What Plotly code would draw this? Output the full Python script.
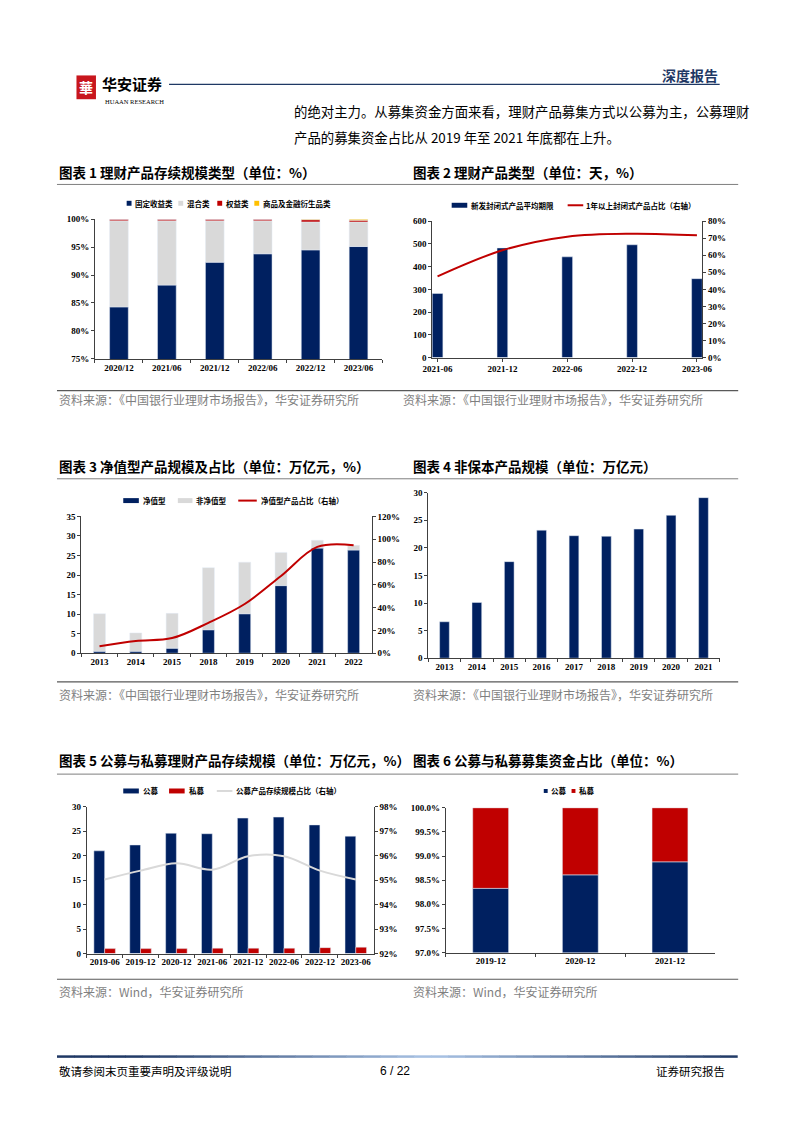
import plotly.graph_objects as go

# The page body has an 8px margin, so the figure is 16px smaller than the
# window and every reference pixel position is shifted by 8px.
OFF = 8
W, H = 802 - 2 * OFF, 1133 - 2 * OFF
def px(x): return (x - OFF) / W
def py(y): return 1 - (y - OFF) / H

NAVY = "#002060"
RED = "#C00000"
LGRAY = "#D9D9D9"
YELLOW = "#FFC000"
CJK = "Noto Sans CJK SC"
SERIF = "Liberation Serif"
AXC = "#404040"

# ---------------- data ----------------
# Chart 1
c1_periods = ["2020/12", "2021/06", "2021/12", "2022/06", "2022/12", "2023/06"]
c1_fixed = [84.3, 88.2, 92.3, 93.8, 94.5, 95.1]
c1_mixed = [15.4, 11.5, 7.4, 5.9, 5.0, 4.4]
c1_equity = [0.3, 0.3, 0.3, 0.3, 0.4, 0.3]
c1_commod = [0.0, 0.0, 0.0, 0.0, 0.1, 0.2]

# Chart 2
c2_periods = ["2021-06", "2021-12", "2022-06", "2022-12", "2023-06"]
c2_term = [282, 482, 443, 496, 347]
c2_share = [47.6, 62.9, 70.9, 72.6, 71.7]

# Chart 3
c3_years = ["2013", "2014", "2015", "2018", "2019", "2020", "2021", "2022"]
c3_net = [0.5, 0.5, 1.3, 6.0, 10.1, 17.3, 26.9, 26.4]
c3_nonnet = [9.6, 4.7, 8.9, 15.9, 13.2, 8.5, 2.0, 1.2]
c3_share = [6.1, 10.7, 13.3, 26.7, 43.2, 67.8, 93.3, 94.8]

# Chart 4
c4_years = ["2013", "2014", "2015", "2016", "2017", "2018", "2019", "2020", "2021"]
c4_scale = [6.6, 10.1, 17.5, 23.2, 22.2, 22.1, 23.4, 25.9, 29.1]

# Chart 5
c5_periods = ["2019-06", "2019-12", "2020-12", "2021-06", "2021-12", "2022-06", "2022-12", "2023-06"]
c5_public = [21.0, 22.2, 24.6, 24.5, 27.7, 27.9, 26.3, 24.0]
c5_private = [1.0, 1.0, 1.0, 1.1, 1.1, 1.1, 1.2, 1.3]
c5_share = [95.03, 95.39, 95.69, 95.43, 95.98, 95.98, 95.39, 95.03]

# Chart 6
c6_periods = ["2019-12", "2020-12", "2021-12"]
c6_public = [98.33, 98.61, 98.88]
c6_private = [round(100 - v, 2) for v in c6_public]

# ---------------- traces ----------------
fig = go.Figure()

b_mixed = c1_fixed
b_equity = [a + b for a, b in zip(c1_fixed, c1_mixed)]
b_commod = [a + b + c for a, b, c in zip(c1_fixed, c1_mixed, c1_equity)]
fig.add_trace(go.Bar(x=c1_periods, y=c1_fixed, name="固定收益类", marker_color=NAVY, width=0.39, xaxis="x", yaxis="y"))
fig.add_trace(go.Bar(x=c1_periods, y=c1_mixed, base=b_mixed, name="混合类", marker_color=LGRAY, width=0.39, xaxis="x", yaxis="y"))
fig.add_trace(go.Bar(x=c1_periods, y=c1_equity, base=b_equity, name="权益类", marker_color=RED, width=0.39, xaxis="x", yaxis="y"))
fig.add_trace(go.Bar(x=c1_periods, y=c1_commod, base=b_commod, name="商品及金融衍生品类", marker_color=YELLOW, width=0.39, xaxis="x", yaxis="y"))

c2_idx = list(range(len(c2_periods)))
fig.add_trace(go.Bar(x=c2_idx, y=c2_term, name="新发封闭式产品平均期限", marker_color=NAVY, width=0.165, xaxis="x2", yaxis="y2"))
fig.add_trace(go.Scatter(x=c2_idx, y=c2_share, name="1年以上封闭式产品占比（右轴）", mode="lines",
                         line=dict(color=RED, width=2, shape="spline"), xaxis="x2", yaxis="y3"))

fig.add_trace(go.Bar(x=c3_years, y=c3_net, name="净值型", marker_color=NAVY, width=0.33, xaxis="x3", yaxis="y4"))
fig.add_trace(go.Bar(x=c3_years, y=c3_nonnet, base=c3_net, name="非净值型", marker_color=LGRAY, width=0.33, xaxis="x3", yaxis="y4"))
fig.add_trace(go.Scatter(x=c3_years, y=c3_share, name="净值型产品占比（右轴）", mode="lines",
                         line=dict(color=RED, width=2, shape="spline"), xaxis="x3", yaxis="y5"))

fig.add_trace(go.Bar(x=c4_years, y=c4_scale, name="非保本产品规模", marker_color=NAVY, width=0.3, xaxis="x4", yaxis="y6"))

fig.add_trace(go.Bar(x=c5_periods, y=c5_public, name="公募", marker_color=NAVY, width=0.3, offset=-0.3, xaxis="x5", yaxis="y7"))
fig.add_trace(go.Bar(x=c5_periods, y=c5_private, name="私募", marker_color=RED, width=0.3, offset=0.0, xaxis="x5", yaxis="y7"))
fig.add_trace(go.Scatter(x=c5_periods, y=c5_share, name="公募产品存续规模占比（右轴）", mode="lines",
                         line=dict(color=LGRAY, width=2, shape="spline"), xaxis="x5", yaxis="y8"))

fig.add_trace(go.Bar(x=c6_periods, y=c6_public, name="公募", marker_color=NAVY, width=0.4, xaxis="x6", yaxis="y9"))
fig.add_trace(go.Bar(x=c6_periods, y=c6_private, base=c6_public, name="私募", marker_color=RED, width=0.4, xaxis="x6", yaxis="y9"))

# ---------------- axes ----------------
TF = dict(family=SERIF, size=9, color="black", weight="bold")

def xcat(x0, x1, anchor):
    return dict(domain=[px(x0), px(x1)], anchor=anchor, type="category", showline=True, linecolor=AXC,
                linewidth=1, ticks="outside", tickson="boundaries", ticklen=3, tickcolor=AXC,
                tickfont=TF, tickangle=0, showgrid=False, zeroline=False, fixedrange=True)

def yval(y0, y1, anchor, rng, dtick, suffix="", fmt=None, side="left", overlaying=None):
    d = dict(anchor=anchor, range=rng, dtick=dtick, tick0=rng[0], showline=True, linecolor=AXC, linewidth=1,
             ticks="outside", ticklen=3, tickcolor=AXC, tickfont=TF, showgrid=False, zeroline=False,
             ticksuffix=suffix, side=side, fixedrange=True)
    if fmt:
        d["tickformat"] = fmt
    if overlaying:
        d["overlaying"] = overlaying
    else:
        d["domain"] = [py(y1), py(y0)]
    return d

layout_axes = dict(
    xaxis=xcat(87, 382, "y"),
    yaxis=yval(216, 357, "x", [75, 100], 5, "%"),
    xaxis2=dict(domain=[px(433), px(710)], anchor="y2", range=[-0.0825, 4.08], tickvals=c2_idx, ticktext=c2_periods,
                showline=True, linecolor=AXC, linewidth=1, ticks="outside", ticklen=3, tickcolor=AXC,
                tickfont=TF, tickangle=0, showgrid=False, zeroline=False, fixedrange=True),
    yaxis2=yval(218, 355.7, "x2", [0, 600], 100),
    yaxis3=yval(218, 355.7, "x2", [0, 80], 10, "%", side="right", overlaying="y2"),
    xaxis3=xcat(73, 371, "y4"),
    yaxis4=yval(516, 654, "x3", [0, 35], 5),
    yaxis5=yval(516, 654, "x3", [0, 120], 20, "%", side="right", overlaying="y4"),
    xaxis4=xcat(429, 728, "y6"),
    yaxis6=yval(492, 659, "x4", [0, 30], 5),
    xaxis5=xcat(78.5, 373, "y7"),
    yaxis7=yval(809, 957, "x5", [0, 30], 5),
    yaxis8=yval(809, 957, "x5", [92, 98], 1, "%", side="right", overlaying="y7"),
    xaxis6=xcat(447, 723, "y9"),
    yaxis9=yval(810, 956, "x6", [97, 100], 0.5, "%", fmt=".1f"),
)

# ---------------- page decorations ----------------
ann = []
shapes = []

def text(x, y, s, size, color="black", bold=False, anchor="left", family=CJK):
    ann.append(dict(x=px(x), y=py(y), xref="paper", yref="paper", text=s, showarrow=False,
                    xanchor=anchor, yanchor="middle",
                    font=dict(family=family, size=size, color=color, weight="bold" if bold else "normal")))

def hline(x0, x1, y, color, width):
    shapes.append(dict(type="line", xref="paper", yref="paper", x0=px(x0), x1=px(x1), y0=py(y), y1=py(y),
                       line=dict(color=color, width=width)))

def rect(x0, y0, x1, y1, color):
    shapes.append(dict(type="rect", xref="paper", yref="paper", x0=px(x0), x1=px(x1), y0=py(y1), y1=py(y0),
                       fillcolor=color, line=dict(width=0)))

# header
rect(68, 71, 88, 95, "#C8161D")
text(78, 83, "華", 14, color="white", bold=True, anchor="center")
text(92, 79, "华安证券", 15, bold=True)
text(95, 97, "HUAAN RESEARCH", 6.5, family=SERIF)
hline(163, 728, 80, "#1F3864", 1.3)
text(728, 71, "深度报告", 14, color="#1F3864", bold=True, anchor="right")

# body text
text(289, 107, "的绝对主力。从募集资金方面来看，理财产品募集方式以公募为主，公募理财", 13.4)
text(289, 133, "产品的募集资金占比从 2019 年至 2021 年底都在上升。", 13.4)

# chart titles and rules
for (x, y, s) in [(48, 168, "图表 1 理财产品存续规模类型（单位：%）"),
                  (411, 168, "图表 2 理财产品类型（单位：天，%）"),
                  (48, 465, "图表 3 净值型产品规模及占比（单位：万亿元，%）"),
                  (411, 465, "图表 4 非保本产品规模（单位：万亿元）"),
                  (48, 762, "图表 5 公募与私募理财产品存续规模（单位：万亿元，%）"),
                  (411, 762, "图表 6 公募与私募募集资金占比（单位：%）")]:
    text(x, y, s, 13.5, bold=True)
for y in [181, 478, 776]:
    hline(48, 747, y, "#7F7F7F", 1)
for y in [389, 683, 983]:
    hline(48, 747, y, "#595959", 1.2)

# sources
src1 = "资料来源：《中国银行业理财市场报告》，华安证券研究所"
src2 = "资料来源：Wind，华安证券研究所"
SS = 12
text(48, 398, src1, SS, color="#7F7F7F")
text(401, 398, src1, SS, color="#7F7F7F")
text(48, 696, src1, SS, color="#7F7F7F")
text(411, 696, src1, SS, color="#7F7F7F")
text(48, 995, src2, SS, color="#7F7F7F")
text(411, 995, src2, SS, color="#7F7F7F")

# legends (drawn as keys + text)
LS = 7.5
for xs, col, lab in [(122, NAVY, "固定收益类"), (175, LGRAY, "混合类"), (215, RED, "权益类"), (253, YELLOW, "商品及金融衍生品类")]:
    rect(xs - 2.5, 197.5, xs + 2.5, 202.5, col)
    text(xs + 4, 200, lab, LS, bold=True)
rect(453, 199.5, 469, 204.5, NAVY)
text(471, 202, "新发封闭式产品平均期限", LS, bold=True)
hline(572, 588, 202, RED, 2)
text(589, 202, "1年以上封闭式产品占比（右轴）", LS, bold=True)
rect(116, 497.5, 132, 502.5, NAVY)
text(134, 500, "净值型", LS, bold=True)
rect(172, 497.5, 187, 502.5, LGRAY)
text(189, 500, "非净值型", LS, bold=True)
hline(234, 253, 500, RED, 2)
text(255, 500, "净值型产品占比（右轴）", LS, bold=True)
rect(116, 790.5, 132, 795.5, NAVY)
text(134, 793, "公募", LS, bold=True)
rect(163, 790.5, 179, 795.5, RED)
text(181, 793, "私募", LS, bold=True)
hline(212, 228, 793, LGRAY, 2)
text(230, 793, "公募产品存续规模占比（右轴）", LS, bold=True)
rect(547.5, 791, 551.5, 795, NAVY)
text(553, 793, "公募", LS, bold=True)
rect(576, 791, 580, 795, RED)
text(582, 793, "私募", LS, bold=True)

# footer gradient rule and texts
n = 40
x0f, x1f = 48, 746
dark = (31, 56, 100)
light = (170, 196, 230)
for i in range(n):
    t = (i + 0.5) / n
    w = max(0.0, 1 - abs(t - 0.55) / 0.45)
    c = tuple(int(dark[k] + (light[k] - dark[k]) * w) for k in range(3))
    xa = x0f + (x1f - x0f) * i / n
    xb = x0f + (x1f - x0f) * (i + 1) / n + 0.5
    hline(xa, xb, 1061, "rgb(%d,%d,%d)" % c, 2.5)
text(48, 1076, "敬请参阅末页重要声明及评级说明", 11.5)
text(395, 1076, "6 / 22", 12, anchor="center", family="Liberation Sans")
text(736, 1076, "证券研究报告", 11.5, anchor="right")

fig.update_layout(
    width=W, height=H, margin=dict(l=0, r=0, t=0, b=0),
    paper_bgcolor="white", plot_bgcolor="white",
    barmode="overlay", showlegend=False,
    annotations=ann, shapes=shapes,
    **layout_axes,
)

fig.write_html("out.html")
